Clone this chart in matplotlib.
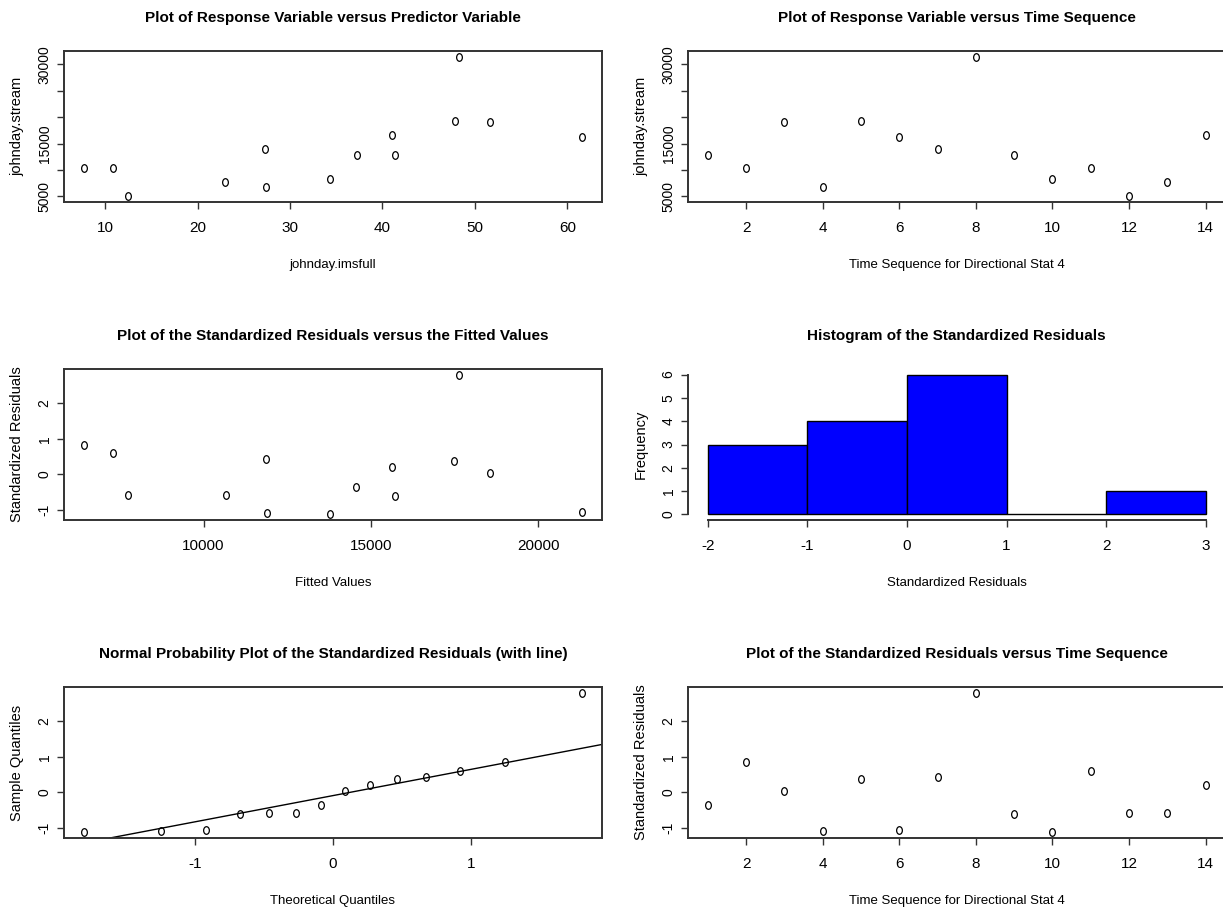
import numpy as np
import matplotlib
matplotlib.use("Agg")
import matplotlib.pyplot as plt
from matplotlib import font_manager
from matplotlib.path import Path

# data (ordered by time sequence)
time_seq = [1, 2, 3, 4, 5, 6, 7, 8, 9, 10, 11, 12, 13, 14]
imsfull = [37.2, 7.7, 51.6, 27.4, 47.8, 61.6, 27.3, 48.3, 41.4, 34.3, 10.8, 12.5, 23.0, 41.0]
stream = [12900, 10450, 19100, 6750, 19250, 16200, 14000, 31450, 12900, 8300, 10300, 5000, 7700, 16700]
fitted = [14547, 6430, 18558, 11895, 17488, 21302, 11872, 17640, 15709, 13791, 7300, 7756, 10674, 15616]
std_resid = [-0.36, 0.84, 0.04, -1.10, 0.37, -1.06, 0.42, 2.81, -0.60, -1.13, 0.59, -0.57, -0.57, 0.21]
theo_q = [-1.80, -1.24, -0.92, -0.67, -0.46, -0.27, -0.09, 0.09, 0.27, 0.46, 0.67, 0.92, 1.24, 1.80]
hist_breaks = [-2, -1, 0, 1, 2, 3]

W, H = 1223, 915
names = {f.name for f in font_manager.fontManager.ttflist}
NARROW = "Liberation Sans Narrow" if "Liberation Sans Narrow" in names else "Liberation Sans"
WIDE = "Liberation Sans"
AX_COL = "#333333"
plt.rcParams["axes.unicode_minus"] = False

fig = plt.figure(figsize=(W / 100, H / 100), dpi=100)

# R style open circle, a little taller than wide (picture is stretched)
circ = Path.unit_circle()
oval = Path(circ.vertices * np.array([0.75, 1.0]), circ.codes)


def px_axes(left, top, right, bottom):
    return fig.add_axes([left / W, 1 - bottom / H, (right - left) / W, (bottom - top) / H])


def style(ax, xticks, yticks, ylabels=None):
    ax.set_xticks(xticks)
    ax.set_yticks(yticks)
    if ylabels is not None:
        ax.set_yticklabels(ylabels)
    ax.tick_params(direction="out", length=5, width=1, color=AX_COL)
    ax.tick_params(axis="x", pad=9)
    ax.tick_params(axis="y", pad=4)
    for lbl in ax.get_xticklabels():
        lbl.set_fontfamily(NARROW)
        lbl.set_fontsize(11)
    for lbl in ax.get_yticklabels():
        lbl.set_fontfamily(WIDE)
        lbl.set_fontsize(10)
        lbl.set_rotation(90)
        lbl.set_va("center")
    for sp in ax.spines.values():
        sp.set_color(AX_COL)
        sp.set_linewidth(1.4)
    ax.margins(0.04)


def labels(box, title, xlab, ylab):
    left, top, right, bottom = box
    cx = (left + right) / 2
    fig.text(cx / W, 1 - (top - 33) / H, title, ha="center", va="center",
             fontfamily=NARROW, fontsize=11, fontweight="bold")
    fig.text(cx / W, 1 - (bottom + 63) / H, xlab, ha="center", va="center",
             fontfamily=NARROW, fontsize=9.5)
    fig.text((left - 47) / W, 1 - (top + bottom) / 2 / H, ylab, ha="center", va="center",
             rotation=90, fontfamily=WIDE, fontsize=10.5)


def scatter(ax, x, y):
    ax.plot(x, y, linestyle="none", marker=oval, markersize=5.5,
            markerfacecolor="none", markeredgecolor="black", markeredgewidth=0.9)


boxes = {
    1: (64, 51, 602, 202),
    2: (688, 51, 1225.5, 202),
    3: (64, 369, 602, 520),
    4: (688, 369, 1225.5, 520),
    5: (64, 687, 602, 838),
    6: (688, 687, 1225.5, 838),
}

stream_ticks = [5000, 10000, 15000, 20000, 25000, 30000]
stream_labs = ["5000", "", "15000", "", "", "30000"]

# 1: response vs predictor
ax = px_axes(*boxes[1])
scatter(ax, imsfull, stream)
style(ax, [10, 20, 30, 40, 50, 60], stream_ticks, stream_labs)
labels(boxes[1], "Plot of Response Variable versus Predictor Variable",
       "johnday.imsfull", "johnday.stream")

# 2: response vs time
ax = px_axes(*boxes[2])
scatter(ax, time_seq, stream)
style(ax, [2, 4, 6, 8, 10, 12, 14], stream_ticks, stream_labs)
labels(boxes[2], "Plot of Response Variable versus Time Sequence",
       "Time Sequence for Directional Stat 4", "johnday.stream")

# 3: residuals vs fitted
ax = px_axes(*boxes[3])
scatter(ax, fitted, std_resid)
style(ax, [10000, 15000, 20000], [-1, 0, 1, 2])
labels(boxes[3], "Plot of the Standardized Residuals versus the Fitted Values",
       "Fitted Values", "Standardized Residuals")

# 4: histogram
ax = px_axes(*boxes[4])
ax.hist(std_resid, bins=hist_breaks, color="blue", edgecolor="black", linewidth=1)
style(ax, hist_breaks, [0, 1, 2, 3, 4, 5, 6])
ax.set_xlim(-2.2, 3.2)
ax.set_ylim(-0.24, 6.24)
ax.spines["top"].set_visible(False)
ax.spines["right"].set_visible(False)
ax.spines["left"].set_bounds(0, 6)
ax.spines["bottom"].set_bounds(-2, 3)
labels(boxes[4], "Histogram of the Standardized Residuals",
       "Standardized Residuals", "Frequency")

# 5: normal probability plot with qq line through the quartiles
ax = px_axes(*boxes[5])
sample_q = np.sort(std_resid)
scatter(ax, theo_q, sample_q)
q1, q3 = np.quantile(std_resid, [0.25, 0.75])
z1, z3 = -0.6745, 0.6745
slope = (q3 - q1) / (z3 - z1)
style(ax, [-1, 0, 1], [-1, 0, 1, 2])
ax.axline((z1, q1), slope=slope, color="black", linewidth=1)
labels(boxes[5], "Normal Probability Plot of the Standardized Residuals (with line)",
       "Theoretical Quantiles", "Sample Quantiles")

# 6: residuals vs time
ax = px_axes(*boxes[6])
scatter(ax, time_seq, std_resid)
style(ax, [2, 4, 6, 8, 10, 12, 14], [-1, 0, 1, 2])
labels(boxes[6], "Plot of the Standardized Residuals versus Time Sequence",
       "Time Sequence for Directional Stat 4", "Standardized Residuals")

fig.savefig("out.png", dpi=100)
